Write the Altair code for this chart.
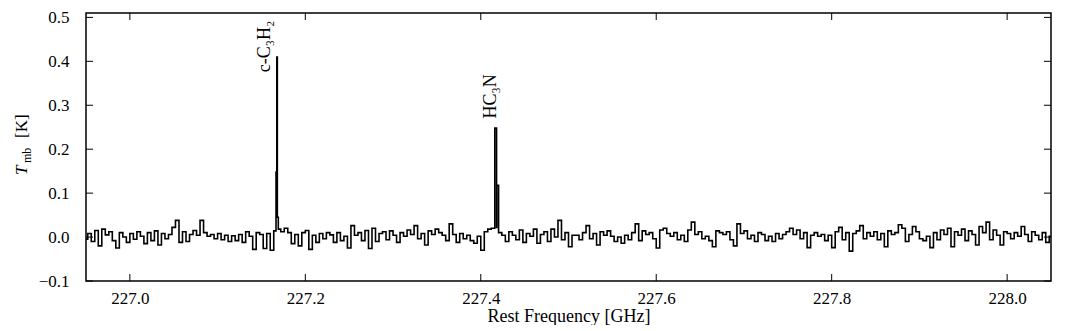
import altair as alt
import pandas as pd

# ---- data ----
freq_start = 226.95          # GHz, first channel of the resampled baseline
freq_step = 0.004            # GHz between read-off baseline samples

baseline_a = [-0.005, 0.008, -0.010, 0.015, -0.020, 0.018, 0.005, 0.012, -0.008, -0.025,
              0.010, 0.000, -0.012, 0.008, -0.005, 0.012, 0.002, -0.015, 0.010, -0.008,
              0.014, -0.018, 0.008, -0.004, 0.006, 0.022, 0.038, -0.012, 0.012, -0.010,
              0.006, 0.015, 0.004, 0.038, 0.010, 0.002, 0.006, -0.004, 0.008, -0.006,
              0.004, -0.010, 0.003, -0.008, 0.006, -0.012, 0.012, 0.002, -0.028, 0.010,
              0.006, -0.026, 0.008, -0.030, 0.014, 0.018, 0.012, 0.020, 0.010, -0.015,
              0.006, -0.020, 0.010, 0.015, -0.028, 0.004, -0.012, 0.008, -0.004, 0.010]
baseline_b = [0.005, -0.012, 0.010, -0.008, 0.002, -0.025, 0.026, 0.004, 0.010, -0.008,
              0.015, -0.026, 0.020, -0.010, 0.008, 0.012, -0.006, 0.014, 0.004, -0.012,
              0.010, 0.002, 0.016, 0.006, 0.026, -0.004, 0.008, -0.018, 0.014, 0.006,
              0.018, 0.010, 0.004, -0.008, 0.030, 0.006, -0.012, 0.008, -0.004, 0.004,
              -0.008, -0.014, 0.002, -0.030, 0.012, 0.018, 0.020, 0.022, 0.010, 0.004,
              -0.010, 0.012, 0.004, -0.006, 0.016, -0.012, 0.008, 0.002, 0.018, -0.014,
              0.006, 0.012, -0.010, 0.018, 0.000, 0.038, -0.006, 0.010, -0.022, 0.004]
baseline_c = [0.004, -0.006, 0.010, 0.026, -0.004, 0.008, -0.018, 0.012, 0.004, 0.014,
              0.002, -0.010, 0.000, -0.014, 0.004, -0.006, 0.010, 0.030, -0.008, 0.014,
              0.006, 0.010, -0.004, -0.025, 0.016, 0.020, 0.008, 0.002, 0.010, -0.006,
              0.004, -0.010, 0.016, 0.034, 0.006, 0.012, -0.004, 0.002, -0.008, -0.022,
              0.014, 0.010, 0.006, 0.012, -0.006, -0.020, 0.030, 0.008, 0.014, -0.004,
              0.004, -0.010, 0.010, 0.006, -0.008, 0.002, -0.010, 0.008, -0.004, 0.006,
              0.012, 0.020, 0.006, 0.016, -0.004, 0.010, -0.024, 0.004, 0.010, 0.002]
baseline_d = [0.006, -0.008, 0.004, -0.024, 0.012, 0.022, -0.006, 0.010, -0.032, 0.008,
              0.014, 0.026, -0.004, 0.010, 0.002, 0.012, -0.006, 0.008, -0.022, 0.014,
              0.006, 0.010, 0.028, 0.020, -0.010, 0.006, 0.024, 0.012, -0.004, -0.008,
              0.002, -0.024, 0.010, -0.006, 0.016, 0.006, 0.020, -0.022, 0.012, 0.004,
              0.018, -0.008, 0.014, 0.006, -0.018, 0.024, 0.010, 0.034, -0.006, 0.016,
              0.004, -0.018, 0.012, 0.008, -0.004, 0.010, 0.002, 0.024, 0.006, -0.010,
              0.012, 0.004, -0.006, 0.010, -0.012, 0.002]

# emission-line channels (GHz, K)
line_freq = [227.1672, 227.1678, 227.1684, 227.4180, 227.4186]
line_tmb = [0.148, 0.410, 0.045, 0.248, 0.118]

# line labels
label_text = ["c-C\u2083H\u2082", "HC\u2083N"]
label_freq = [227.1595, 227.4176]
label_tmb = [0.375, 0.270]

x_ticks = [227.0, 227.2, 227.4, 227.6, 227.8, 228.0]
y_ticks = [-0.1, 0.0, 0.1, 0.2, 0.3, 0.4, 0.5]
x_domain = [226.95, 228.05]
y_domain = [-0.1, 0.51]

W, H = 965, 268
FONT = "Liberation Serif, DejaVu Serif, serif"
FS = 17

# ---- build the table ----
baseline = baseline_a + baseline_b + baseline_c + baseline_d
base_freq = [round(freq_start + freq_step * i, 4) for i in range(len(baseline))]
spec = pd.DataFrame({"freq": base_freq + line_freq, "tmb": baseline + line_tmb})
spec = spec.sort_values("freq").reset_index(drop=True)

xscale = alt.Scale(domain=x_domain, nice=False, zero=False)
yscale = alt.Scale(domain=y_domain, nice=False, zero=False)

axis_font = dict(labelFont=FONT, labelFontSize=FS, labelColor="black",
                 titleFont=FONT, titleFontSize=18, titleFontWeight="normal", titleColor="black",
                 domain=False, ticks=False, tickSize=0, grid=False)

line = alt.Chart(spec).mark_line(color="black", strokeWidth=1.6, interpolate="step").encode(
    x=alt.X("freq:Q", scale=xscale,
            axis=alt.Axis(values=x_ticks, format=".1f", title="Rest Frequency [GHz]",
                          labelPadding=9, titlePadding=1, **axis_font)),
    y=alt.Y("tmb:Q", scale=yscale,
            axis=alt.Axis(values=y_ticks, format=".1f", title=None,
                          labelPadding=17, **axis_font)),
    order="freq:Q",
)

xt = pd.DataFrame({"freq": x_ticks})
yt = pd.DataFrame({"tmb": y_ticks})
tick_style = dict(color="black", strokeWidth=1)
ticks_bottom = alt.Chart(xt).mark_rule(**tick_style).encode(
    x="freq:Q", y=alt.value(H), y2=alt.value(H - 7))
ticks_top = alt.Chart(xt).mark_rule(**tick_style).encode(
    x="freq:Q", y=alt.value(0), y2=alt.value(7))
ticks_left = alt.Chart(yt).mark_rule(**tick_style).encode(
    y="tmb:Q", x=alt.value(0), x2=alt.value(7))
ticks_right = alt.Chart(yt).mark_rule(**tick_style).encode(
    y="tmb:Q", x=alt.value(W), x2=alt.value(W - 7))

labels = alt.Chart(pd.DataFrame({"freq": label_freq, "tmb": label_tmb, "label": label_text})).mark_text(
    angle=270, align="left", baseline="alphabetic", font=FONT, fontSize=18, color="black"
).encode(x="freq:Q", y="tmb:Q", text="label:N")

one = pd.DataFrame({"a": [0]})
yt_T = alt.Chart(one).mark_text(angle=270, align="left", baseline="alphabetic", font=FONT,
                                fontSize=FS, fontStyle="italic", color="black").encode(
    x=alt.value(-59), y=alt.value(162), text=alt.value("T"))
yt_mb = alt.Chart(one).mark_text(angle=270, align="left", baseline="alphabetic", font=FONT,
                                 fontSize=12, color="black").encode(
    x=alt.value(-55), y=alt.value(150), text=alt.value("mb"))
yt_K = alt.Chart(one).mark_text(angle=270, align="left", baseline="alphabetic", font=FONT,
                                fontSize=FS, color="black").encode(
    x=alt.value(-59), y=alt.value(125), text=alt.value("[K]"))

chart = alt.layer(
    line, ticks_bottom, ticks_top, ticks_left, ticks_right, labels, yt_T, yt_mb, yt_K
).properties(
    width=W, height=H, padding={"left": 5, "top": 0, "right": 5, "bottom": 0}
).configure_view(
    stroke="black", strokeWidth=1.5
)

chart.save("out.html", embed_options={"renderer": "svg", "actions": False})
